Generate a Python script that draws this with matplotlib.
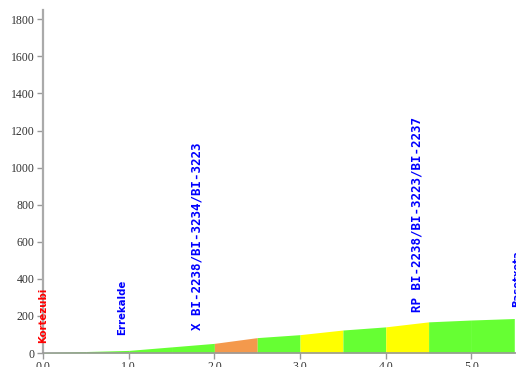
import matplotlib
matplotlib.use("Agg")
import matplotlib.pyplot as plt

# Route profile: distance (km) and elevation (m)
distance_km = [0.0, 0.5, 1.0, 1.5, 2.0, 2.5, 3.0, 3.5, 4.0, 4.5, 5.0, 5.5]
elevation_m = [3, 8, 14, 33, 52, 83, 99, 124, 141, 168, 178, 186]

# Colour of each 0.5 km stretch (by gradient)
segment_colors = ["#66ff33", "#66ff33", "#66ff33", "#66ff33", "#f4994c",
                  "#66ff33", "#ffff00", "#66ff33", "#ffff00", "#66ff33",
                  "#66ff33"]

# Waypoints along the route
place_names = ["Kortezubi", "Errekalde", "X BI-2238/BI-3234/BI-3223",
               "RP BI-2238/BI-3223/BI-2237", "Basetxeta"]
place_km = [0.0, 0.92, 1.80, 4.36, 5.53]
place_label_y = [54, 97, 124, 221, 250]
place_colors = ["#ff0000", "#0000ff", "#0000ff", "#0000ff", "#0000ff"]
place_mono = [False, False, True, True, False]

y_ticks = [0, 200, 400, 600, 800, 1000, 1200, 1400, 1600, 1800]
x_ticks = [0.0, 1.0, 2.0, 3.0, 4.0, 5.0]

fig = plt.figure(figsize=(5.16, 3.67), dpi=100)
ax = fig.add_axes([43 / 516, 14 / 367, 1 - 43 / 516, (353 - 10) / 367])

for i, col in enumerate(segment_colors):
    ax.fill_between(distance_km[i:i + 2], 0, elevation_m[i:i + 2],
                    color=col, linewidth=0)

for name, km, ly, col, mono in zip(place_names, place_km, place_label_y,
                                   place_colors, place_mono):
    if mono:
        ax.text(km, ly, name, rotation=90, ha="center", va="bottom",
                color=col, fontsize=9, fontweight="bold",
                family="DejaVu Sans Mono", clip_on=False)
    else:
        ax.text(km, ly, name, rotation=90, ha="center", va="bottom",
                color=col, fontsize=7.3, fontweight="bold",
                family="DejaVu Sans", clip_on=False)

ax.set_xlim(0, 5.52)
ax.set_ylim(0, 1850)
ax.set_yticks(y_ticks)
ax.set_yticklabels([str(v) for v in y_ticks])
ax.set_xticks(x_ticks)
ax.set_xticklabels([f"{v:.1f}" for v in x_ticks])

for lbl in ax.get_xticklabels() + ax.get_yticklabels():
    lbl.set_family("Liberation Serif")
    lbl.set_fontsize(8.5)
    lbl.set_color("#333333")

ax.tick_params(axis="both", direction="out", length=4, width=1,
               color="#999999", pad=2)
ax.spines["top"].set_visible(False)
ax.spines["right"].set_visible(False)
ax.spines["left"].set_color("#aaaaaa")
ax.spines["left"].set_linewidth(1.6)
ax.spines["bottom"].set_color("#999999")
ax.spines["bottom"].set_linewidth(1.2)
ax.patch.set_alpha(0)

fig.savefig("out.png", dpi=100)
